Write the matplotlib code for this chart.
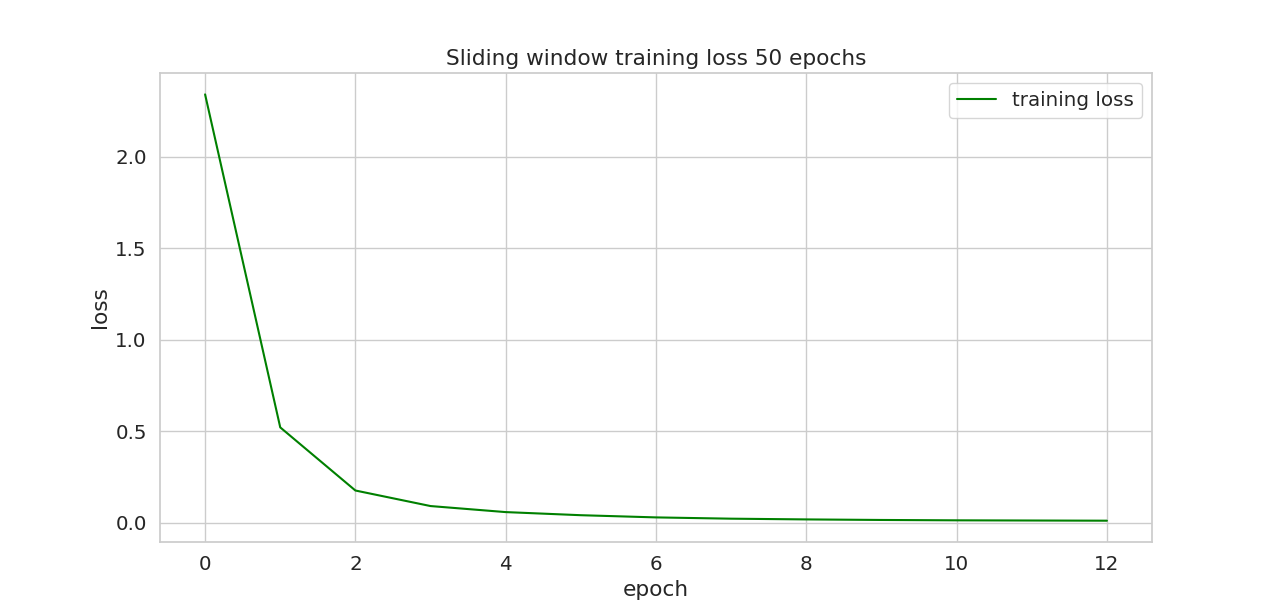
import matplotlib
matplotlib.use("agg")
import matplotlib.pyplot as plt
import seaborn as sns

epochs = list(range(13))
loss = [2.34, 0.52, 0.175, 0.09, 0.057, 0.04, 0.028, 0.021, 0.017, 0.014, 0.012, 0.011, 0.010]

sns.set_theme(style="whitegrid", font_scale=1.3)
fig, ax = plt.subplots(figsize=(12.8, 6.09), dpi=100)
ax.plot(epochs, loss, color="green", label="training loss")
ax.set_title("Sliding window training loss 50 epochs")
ax.set_xlabel("epoch")
ax.set_ylabel("loss")
ax.legend()
plt.savefig("out.png")
